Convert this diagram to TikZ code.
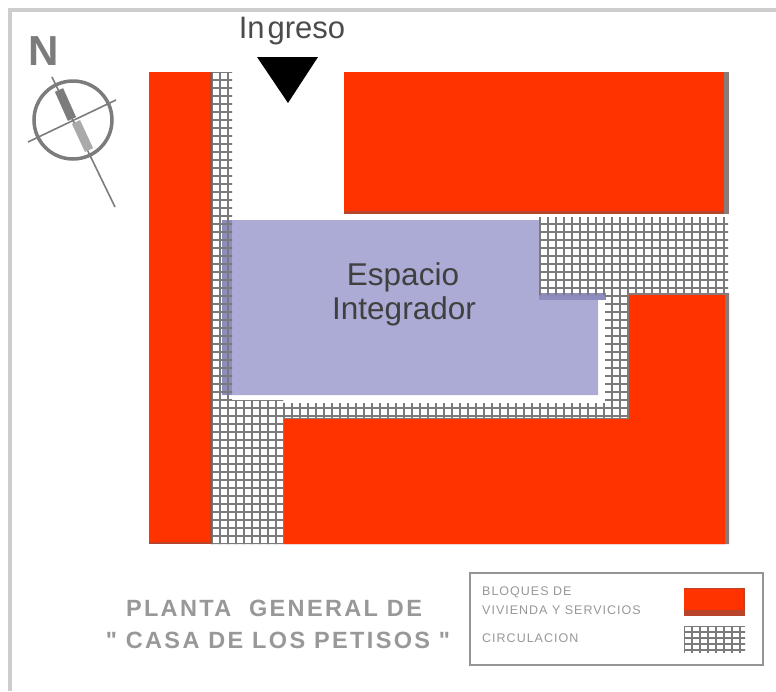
\documentclass[tikz,border=0pt]{standalone}
\usepackage{fontspec}
\setmainfont{Liberation Sans}
\newfontfamily\spaced[LetterSpace=10]{Liberation Sans}
\newfontfamily\spacedsmall[LetterSpace=8]{Liberation Sans}
\definecolor{blockred}{HTML}{FF3300}
\definecolor{edgegray}{HTML}{8A7B78}
\definecolor{edgered}{HTML}{B8452A}
\definecolor{plaza}{HTML}{ABABD5}
\definecolor{plazadark}{HTML}{8C8CBE}
\definecolor{gridgray}{HTML}{7A7A7A}
\definecolor{framegray}{HTML}{CDCDCD}
\definecolor{inkgray}{HTML}{7C7C7C}
\definecolor{labelgray}{HTML}{989898}
\tikzset{
  x=1pt,y=-1pt,
  block/.style={fill=blockred,draw=none},
  gridline/.style={draw=gridgray,line width=2.4pt},
  compass/.style={draw=inkgray,line width=1.6pt},
  titletext/.style={text=labelgray,font=\spaced\bfseries\fontsize{23.5}{26}\selectfont,inner sep=0pt},
  legendtext/.style={text=labelgray,font=\spacedsmall\fontsize{12.5}{14}\selectfont,inner sep=0pt,anchor=west},
  bigtext/.style={text=black!75,font=\fontsize{31.5}{34}\selectfont,inner sep=0pt}
}
\begin{document}
\begin{tikzpicture}
\useasboundingbox (0,0) rectangle (776,691);
\fill[white] (0,0) rectangle (776,691);
% frame: top and left edges only
\fill[framegray] (8,8) rectangle (776,12);
\fill[framegray] (8,8) rectangle (12,691);

% plaza, under the circulation grid
\fill[plaza] (222,220) -- (539,220) -- (539,297) -- (598,297) -- (598,395) -- (222,395) -- cycle;
\fill[plazadark] (539,293) rectangle (606,300);
\fill[plazadark] (222,220) rectangle (232,395);

% circulation grid
\begin{scope}
  \clip (211,72) rectangle (232,400)
        (211,400) rectangle (283,544)
        (232,403) rectangle (628,418)
        (605,295) rectangle (628,418)
        (539,217) rectangle (728,295);
  \foreach \gx in {204,212,...,740} \draw[gridline] (\gx,60) -- (\gx,550);
  \foreach \gy in {72,80,...,550} \draw[gridline] (205,\gy) -- (735,\gy);
\end{scope}

% housing blocks
\fill[edgered] (149,72) rectangle (212,544);
\fill[block] (149,72) rectangle (210,542);
\fill[edgegray] (344,72) rectangle (729,214);
\fill[edgered] (344,72) rectangle (724,214);
\fill[block] (344,72) rectangle (724,211);
\fill[edgegray] (283,418) -- (628,418) -- (628,293) -- (729,293) -- (729,544) -- (283,544) -- cycle;
\fill[block] (284,419) -- (629,419) -- (629,295) -- (725,295) -- (725,544) -- (284,544) -- cycle;

% entrance
\fill[black] (257,57) -- (318,57) -- (288,103) -- cycle;
\node[text=black!70,font=\fontsize{31}{33}\selectfont,inner sep=0pt] (ingreso) at (292,31) {In\kern3pt greso};

% north mark
\node[text=inkgray,font=\bfseries\fontsize{42}{44}\selectfont,inner sep=0pt] (north) at (44,51) {N};
\draw[compass,line width=3.5pt] (73,120) circle (39);
\draw[compass] (52,77) -- (115,207);
\draw[compass] (28,142) -- (116,100);
\draw[inkgray,line width=9pt] (59,90) -- (72,119);
\draw[inkgray!65,line width=9pt] (76,122) -- (89,150);

% plaza label
\node[bigtext] (espacio) at (403,277) {Espacio};
\node[bigtext] (integrador) at (404,311) {Integrador};

% title
\node[titletext] (title1) at (274,608) {PLANTA\ \ GENERAL DE};
\node[titletext] (title2) at (278,640) {" CASA DE LOS PETISOS "};

% legend
\draw[gridgray!80,line width=2pt] (470,573) rectangle (763,665);
\node[legendtext] (l1) at (482,592) {BLOQUES DE};
\node[legendtext] (l2) at (482,610) {VIVIENDA Y SERVICIOS};
\node[legendtext] (l3) at (482,638) {CIRCULACION};
\fill[edgered] (684,588) rectangle (745,616);
\fill[block] (684,589) rectangle (743,610);
\begin{scope}
  \clip (684,626) rectangle (745,652);
  \foreach \gx in {684,692,...,746} \draw[gridline] (\gx,620) -- (\gx,655);
  \foreach \gy in {626,632,...,653} \draw[gridline] (680,\gy) -- (748,\gy);
\end{scope}
\end{tikzpicture}
\end{document}
